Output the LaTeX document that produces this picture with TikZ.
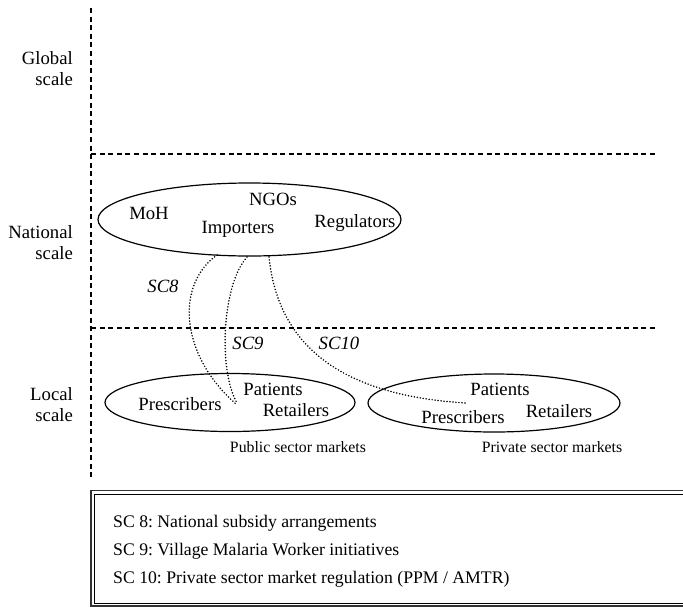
\documentclass[tikz,border=0pt]{standalone}
\usepackage{fontspec}
\setmainfont{Liberation Serif}
\usetikzlibrary{shapes.geometric}
\frenchspacing
\begin{document}
\begin{tikzpicture}[x=1pt,y=-1pt,
  txt/.style={font=\fontsize{18.7}{21.5}\selectfont, inner sep=0pt, anchor=base},
  lbl/.style={font=\fontsize{18.7}{21.5}\selectfont\itshape, inner sep=0pt, anchor=base},
  small/.style={font=\fontsize{15.8}{18}\selectfont, inner sep=0pt, anchor=base},
  leg/.style={font=\fontsize{17.7}{20}\selectfont, inner sep=0pt, anchor=base west},
  scalelbl/.style={font=\fontsize{18.7}{21.5}\selectfont, inner sep=0pt, align=right, anchor=east},
  bound/.style={line width=1.1pt, dash pattern=on 5pt off 3.6pt},
  market/.style={draw, ellipse, line width=1.2pt, inner sep=0pt},
  sc/.style={line width=1.7pt, line cap=round, dash pattern=on 0pt off 3pt}]
\useasboundingbox (0,0) rectangle (683,606);
\clip (0,0) rectangle (683,606);

% scale boundaries
\coordinate (vtop) at (91,8);
\coordinate (vbot) at (91,478);
\coordinate (h1l) at (91,154);
\coordinate (h1r) at (658,154);
\coordinate (h2l) at (91,328);
\coordinate (h2r) at (658,328);
\draw[bound] (vtop) -- (vbot);
\draw[bound] (h1l) -- (h1r);
\draw[bound] (h2l) -- (h2r);

% scale labels
\node[scalelbl] (glob) at (73,68.5) {Global\\scale};
\node[scalelbl] (natl) at (73,242.5) {National\\scale};
\node[scalelbl] (locl) at (73,404.5) {Local\\scale};

% national ellipse
\node[market, minimum width=303pt, minimum height=73pt] (nat) at (249.5,219.5) {};
\node[txt] (moh) at (149,219) {MoH};
\node[txt] (ngo) at (273,205) {NGOs};
\node[txt] (imp) at (238,233) {Importers};
\node[txt] (reg) at (355,227) {Regulators};

% public sector ellipse
\node[market, minimum width=250pt, minimum height=58pt] (pub) at (230,402.5) {};
\node[txt] (pubpre) at (180,410) {Prescribers};
\node[txt] (pubpat) at (273,395) {Patients};
\node[txt] (pubret) at (296,416) {Retailers};
\node[small] (publbl) at (298,452) {Public sector markets};

% private sector ellipse
\node[market, minimum width=252pt, minimum height=58pt] (pri) at (494,403) {};
\node[txt] (pripat) at (500,395) {Patients};
\node[txt] (pripre) at (463,423) {Prescribers};
\node[txt] (priret) at (559,417) {Retailers};
\node[small] (prilbl) at (552,452) {Private sector markets};

% supply chain connectors
\coordinate (s8a) at (217,255);
\coordinate (s9a) at (247,257);
\coordinate (s10a) at (269,257);
\coordinate (s8b) at (236,404);
\coordinate (s9b) at (237,403);
\coordinate (s10b) at (465,403);
\draw[sc] (s8a) .. controls (175,285) and (180,355) .. (s8b);
\draw[sc] (s9a) .. controls (222,285) and (218,370) .. (s9b);
\draw[sc] (s10a) .. controls (278,345) and (340,395) .. (s10b);
\node[lbl] (l8) at (163,292) {SC8};
\node[lbl] (l9) at (248,349) {SC9};
\node[lbl] (l10) at (339,349) {SC10};

% legend
\coordinate (bo1) at (91,490.5);
\coordinate (bo2) at (720,640);
\coordinate (bi1) at (94.5,494);
\coordinate (bi2) at (720,603.5);
\draw[line width=1.8pt, black!80] (bo1) rectangle (bo2);
\draw[line width=0.9pt] (bi1) rectangle (bi2);
\draw[line width=1.8pt, black!80] (91,606) -- (720,606);
\node[leg] (t8) at (113,527) {SC 8: National subsidy arrangements};
\node[leg] (t9) at (113,555) {SC 9: Village Malaria Worker initiatives};
\node[leg] (t10) at (113,583) {SC 10: Private sector market regulation (PPM / AMTR)};
\end{tikzpicture}
\end{document}
